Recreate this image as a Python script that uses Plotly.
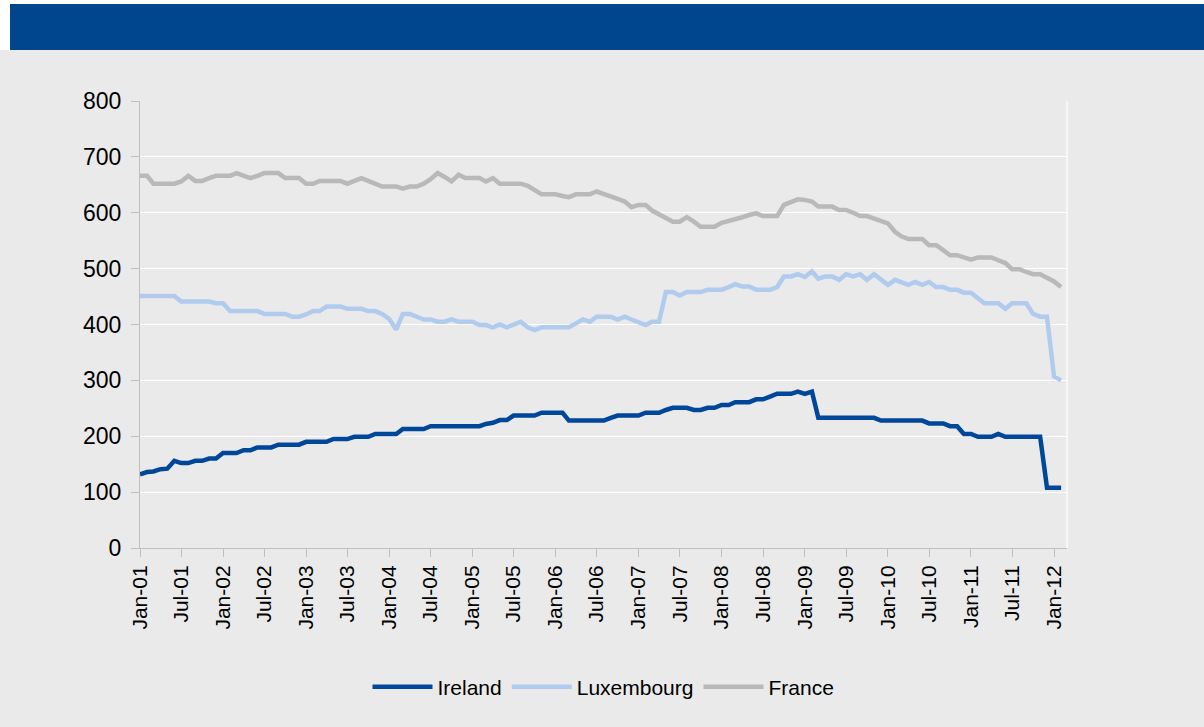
import pandas as pd
import plotly.graph_objects as go

months = pd.date_range("2001-01-01", periods=134, freq="MS")

ireland = [
    132, 136, 137, 141, 142, 156, 152, 152, 156, 156,
    160, 160, 170, 170, 170, 175, 175, 180, 180, 180,
    185, 185, 185, 185, 190, 190, 190, 190, 195, 195,
    195, 199, 199, 199, 204, 204, 204, 204, 213, 213,
    213, 213, 218, 218, 218, 218, 218, 218, 218, 218,
    222, 224, 229, 229, 237, 237, 237, 237, 242, 242,
    242, 242, 228, 228, 228, 228, 228, 228, 233, 237,
    237, 237, 237, 242, 242, 242, 247, 251, 251, 251,
    247, 247, 251, 251, 256, 256, 261, 261, 261, 266,
    266, 271, 276, 276, 276, 280, 276, 280, 233, 233,
    233, 233, 233, 233, 233, 233, 233, 228, 228, 228,
    228, 228, 228, 228, 223, 223, 223, 218, 218, 204,
    204, 199, 199, 199, 204, 199, 199, 199, 199, 199,
    199, 108, 108, 108,
]

luxembourg = [
    451, 451, 451, 451, 451, 451, 441, 441, 441, 441,
    441, 438, 438, 424, 424, 424, 424, 424, 419, 419,
    419, 419, 414, 414, 418, 424, 424, 432, 432, 432,
    428, 428, 428, 424, 424, 419, 410, 391, 419, 419,
    414, 409, 409, 405, 405, 409, 405, 405, 405, 399,
    399, 395, 400, 395, 400, 405, 395, 390, 395, 395,
    395, 395, 395, 402, 409, 405, 414, 414, 414, 409,
    414, 409, 404, 399, 405, 405, 458, 458, 452, 458,
    458, 458, 462, 462, 462, 467, 472, 468, 468, 462,
    462, 462, 467, 486, 486, 490, 485, 495, 482, 486,
    486, 480, 490, 486, 490, 480, 490, 480, 471, 480,
    475, 471, 476, 471, 476, 467, 467, 462, 462, 457,
    457, 447, 438, 438, 438, 428, 438, 438, 438, 419,
    414, 414, 307, 300,
]

france = [
    666, 666, 652, 652, 652, 652, 656, 666, 657, 657,
    662, 666, 666, 666, 671, 666, 662, 666, 671, 671,
    671, 662, 662, 662, 652, 652, 657, 657, 657, 657,
    652, 657, 662, 657, 652, 647, 647, 647, 643, 647,
    647, 652, 660, 671, 664, 656, 668, 662, 662, 662,
    656, 662, 652, 652, 652, 652, 648, 640, 633, 633,
    633, 630, 628, 633, 633, 633, 638, 634, 630, 625,
    620, 610, 614, 614, 604, 598, 591, 584, 584, 592,
    584, 575, 575, 575, 582, 585, 588, 592, 596, 599,
    594, 594, 594, 614, 620, 624, 623, 620, 611, 611,
    611, 605, 605, 600, 594, 594, 590, 585, 581, 566,
    558, 553, 553, 553, 542, 542, 533, 524, 524, 520,
    516, 520, 520, 520, 515, 510, 499, 499, 494, 490,
    490, 484, 477, 467,
]

series_names = ["Ireland", "Luxembourg", "France"]
series_colors = ["#00479A", "#B0CBEE", "#B9B9B9"]

BG = "#EAEAEA"
W, H = 1204, 727
L, R, T, B = 140, 137, 101, 179
pw, ph = W - L - R, H - T - B


def px_x(p):
    return (p - L) / pw


def px_y(p):
    return (H - B - p) / ph


fig = go.Figure()
for name, vals, col in zip(series_names, [ireland, luxembourg, france], series_colors):
    fig.add_trace(go.Scatter(
        x=months, y=vals, name=name, mode="lines",
        line=dict(color=col, width=4.5),
    ))

shapes = [
    # white top strip
    dict(type="rect", xref="paper", yref="paper", x0=px_x(0), x1=px_x(W), y0=px_y(0), y1=px_y(50),
         fillcolor="white", line=dict(width=0), layer="above"),
    # blue header band
    dict(type="rect", xref="paper", yref="paper", x0=px_x(10), x1=px_x(W), y0=px_y(4), y1=px_y(50),
         fillcolor="#00468F", line=dict(width=0), layer="above"),
    # right border of plot area
    dict(type="line", xref="paper", yref="paper", x0=1, x1=1, y0=0, y1=1,
         line=dict(color="white", width=1.2), layer="above"),
]

fig.update_layout(
    width=W, height=H,
    margin=dict(l=L, r=R, t=T, b=B),
    paper_bgcolor=BG, plot_bgcolor=BG,
    font=dict(family="Liberation Sans, Arial, sans-serif", size=21, color="black"),
    shapes=shapes,
    showlegend=True,
    legend=dict(orientation="h", x=0.5, xanchor="center", y=px_y(687), yanchor="middle",
                font=dict(size=21), itemwidth=60, bgcolor="rgba(0,0,0,0)",
                traceorder="normal"),
    xaxis=dict(
        type="date", range=["2001-01-01", "2012-02-27"],
        tick0="2001-01-01", dtick="M6", tickformat="%b-%y", tickangle=-90,
        showgrid=False, showline=True, linecolor="#BFBFBF", linewidth=1,
        ticks="outside", ticklen=8, tickcolor="#BFBFBF",
        tickfont=dict(size=21), zeroline=False,
    ),
    yaxis=dict(
        range=[0, 800], dtick=100, tick0=0,
        showgrid=True, gridcolor="white", gridwidth=1,
        showline=True, linecolor="#BFBFBF", linewidth=1,
        ticks="outside", ticklen=8, tickcolor="#BFBFBF",
        tickfont=dict(size=23), zeroline=False, ticklabelstandoff=5,
    ),
)

fig.write_html(
    "out.html",
    config={"displayModeBar": False},
    post_script="document.body.style.margin='0';document.body.style.overflow='hidden';",
)
